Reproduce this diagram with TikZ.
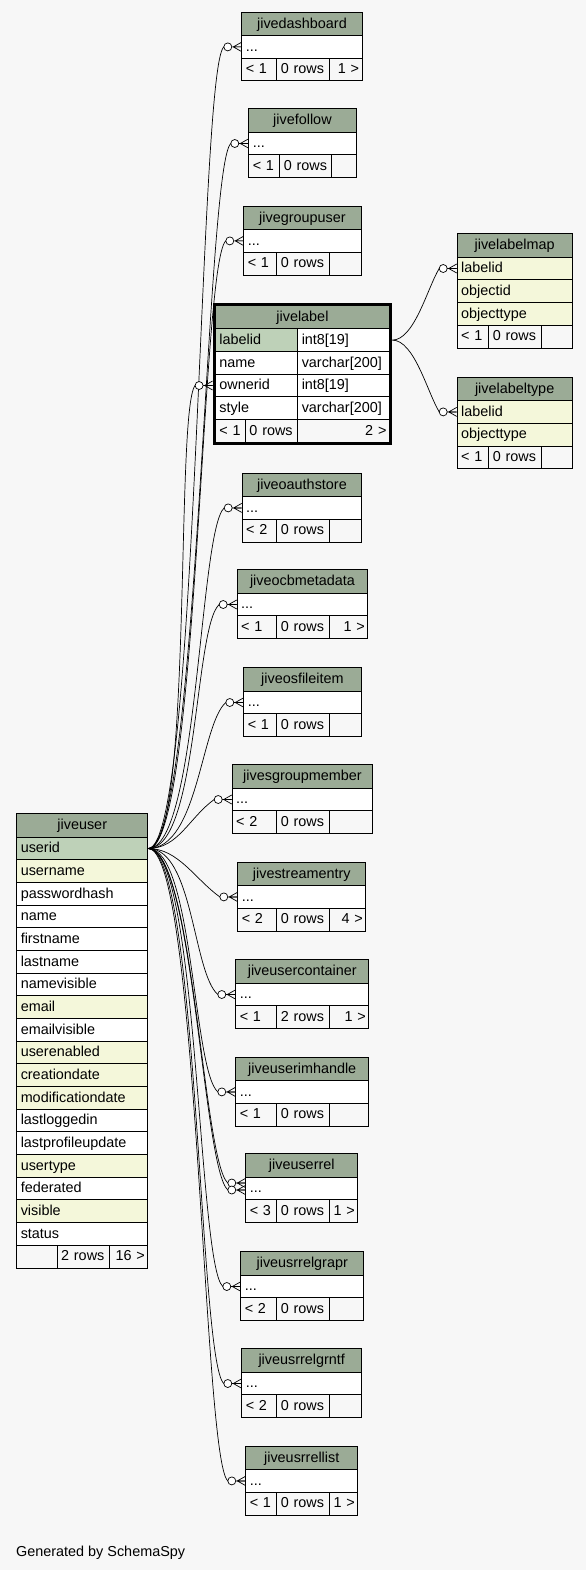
\documentclass[tikz,border=0pt]{standalone}
\usepackage{fontspec}
\setmainfont{Liberation Sans}
\usepackage{tikz}
\usetikzlibrary{fit}
\definecolor{pagebg}{HTML}{F7F7F7}
\definecolor{headgreen}{HTML}{9BAB96}
\definecolor{keygreen}{HTML}{BED1B8}
\definecolor{idxyellow}{HTML}{F4F7DA}

\begin{document}
\begin{tikzpicture}[x=1pt, y=-1pt,
    font=\fontsize{14.4}{16}\selectfont,
    cell/.style={draw, line width=0.9pt, fill=white, inner xsep=4pt, inner ysep=0pt,
        anchor=north west, text height=10.5pt, text depth=2pt, minimum height=22.7pt, align=left},
    headcell/.style={cell, fill=headgreen, minimum height=23.4pt, align=center},
    footcell/.style={cell, fill=pagebg},
    footright/.style={footcell, inner xsep=3pt, align=right},
    fk/.style={line width=0.7pt},
    crowodot/.pic={
        \draw[fk, fill=white] (-13.5,0) circle (4pt);
        \draw[fk] (-8,0) -- (0,-4.5) (-8,0) -- (0,0) (-8,0) -- (0,4.5);
    }]

% ---- Page ----
\fill[pagebg] (0,0) rectangle (586,1570);
\useasboundingbox (0,0) rectangle (586,1570);

% ---- Child tables with one "..." row ----
\foreach \tname/\xa/\xb/\ytop/\fl/\fm/\fr/\sa/\sb in {
    jivedashboard/241.3/361.7/11.7/{< 1}/{0 rows}/{1 >}/276.3/328.5,
    jivefollow/248.3/355.7/108.3/{< 1}/{0 rows}/{}/279.3/331.3,
    jivegroupuser/243.3/360.7/205.7/{< 1}/{0 rows}/{}/276.3/328.5,
    jiveoauthstore/241.7/361.3/472.7/{< 2}/{0 rows}/{}/276.3/328.5,
    jiveocbmetadata/236.7/367.3/569.3/{< 1}/{0 rows}/{1 >}/276.3/328.5,
    jiveosfileitem/243.3/360.7/667.3/{< 1}/{0 rows}/{}/276.3/328.5,
    jivesgroupmember/231.7/372.3/764.3/{< 2}/{0 rows}/{}/276.3/328.5,
    jivestreamentry/237.3/365.3/861.7/{< 2}/{0 rows}/{4 >}/276.3/328.5,
    jiveusercontainer/235.3/368.3/959.3/{< 1}/{2 rows}/{1 >}/276.3/328.5,
    jiveuserimhandle/235.3/368.3/1056.7/{< 1}/{0 rows}/{}/276.3/328.5,
    jiveuserrel/245.3/357.3/1153.3/{< 3}/{0 rows}/{1 >}/276.3/328.5,
    jiveusrrelgrapr/240.3/363.3/1251.3/{< 2}/{0 rows}/{}/276.3/328.5,
    jiveusrrelgrntf/241.3/361.3/1348.3/{< 2}/{0 rows}/{}/276.3/328.5,
    jiveusrrellist/245.3/357.3/1445.7/{< 1}/{0 rows}/{1 >}/276.3/328.5} {
    \pgfmathsetmacro{\tw}{\xb-\xa-8}
    \pgfmathsetmacro{\ya}{\ytop+23.4}
    \pgfmathsetmacro{\yb}{\ytop+46.1}
    \pgfmathsetmacro{\wa}{\sa-\xa-8}
    \pgfmathsetmacro{\wb}{\sb-\sa-8}
    \pgfmathsetmacro{\wc}{\xb-\sb-6}
    \node[headcell, text width=\tw pt] (\tname-head) at (\xa,\ytop) {\tname};
    \node[cell, text width=\tw pt] (\tname-dots) at (\xa,\ya) {...};
    \node[footcell, text width=\wa pt] (\tname-fl) at (\xa,\yb) {\fl};
    \node[footcell, text width=\wb pt] (\tname-fm) at (\sa,\yb) {\fm};
    \node[footright, text width=\wc pt] (\tname-fr) at (\sb,\yb) {\fr};
}

% ---- jivelabel (selected table) ----
\node[headcell, text width=166pt] (jivelabel-head) at (215,305) {jivelabel};
\foreach \col/\ctype/\cfill [count=\i from 0] in {labelid/int8[19]/keygreen,
    name/varchar[200]/white, ownerid/int8[19]/white, style/varchar[200]/white} {
    \node[cell, fill=\cfill, text width=74.3pt] (jivelabel-\col) at (215,{328.3+\i*22.7}) {\col};
    \node[cell, text width=83.7pt] (jivelabel-\col-type) at (297.3,{328.3+\i*22.7}) {\ctype};
}
\node[footcell, text width=22pt] (jivelabel-fl) at (215,419.1) {< 1};
\node[footcell, text width=44.3pt] (jivelabel-fm) at (245,419.1) {0 rows};
\node[footright, text width=85.7pt] (jivelabel-fr) at (297.3,419.1) {2 >};
\node[draw, line width=2.6pt, inner sep=1.1pt, fit=(jivelabel-head)(jivelabel-fr)] (jivelabel) {};

% ---- jivelabelmap ----
\node[headcell, text width=107pt] (jivelabelmap-head) at (456.7,233.3) {jivelabelmap};
\foreach \col [count=\i from 0] in {labelid, objectid, objecttype}
    \node[cell, fill=idxyellow, text width=107pt] (jivelabelmap-\col) at (456.7,{256.7+\i*22.7}) {\col};
\node[footcell, text width=23.6pt] (jivelabelmap-fl) at (456.7,324.8) {< 1};
\node[footcell, text width=44.4pt] (jivelabelmap-fm) at (488.3,324.8) {0 rows};
\node[footright, text width=25pt] (jivelabelmap-fr) at (540.7,324.8) {};

% ---- jivelabeltype ----
\node[headcell, text width=107pt] (jivelabeltype-head) at (456.7,376.7) {jivelabeltype};
\foreach \col [count=\i from 0] in {labelid, objecttype}
    \node[cell, fill=idxyellow, text width=107pt] (jivelabeltype-\col) at (456.7,{400.1+\i*22.7}) {\col};
\node[footcell, text width=23.6pt] (jivelabeltype-fl) at (456.7,445.5) {< 1};
\node[footcell, text width=44.4pt] (jivelabeltype-fm) at (488.3,445.5) {0 rows};
\node[footright, text width=25pt] (jivelabeltype-fr) at (540.7,445.5) {};

% ---- jiveuser ----
\node[headcell, text width=123pt] (jiveuser-head) at (16.3,813.3) {jiveuser};
\foreach \col/\cfill [count=\i from 0] in {userid/keygreen, username/idxyellow,
    passwordhash/white, name/white, firstname/white, lastname/white, namevisible/white,
    email/idxyellow, emailvisible/white, userenabled/idxyellow, creationdate/idxyellow,
    modificationdate/idxyellow, lastloggedin/white, lastprofileupdate/white,
    usertype/idxyellow, federated/white, visible/idxyellow, status/white}
    \node[cell, fill=\cfill, text width=123pt] (jiveuser-\col) at (16.3,{836.7+\i*22.67}) {\col};
\node[footcell, text width=32.4pt] (jiveuser-fl) at (16.3,1244.8) {};
\node[footcell, text width=44pt] (jiveuser-fm) at (56.7,1244.8) {2 rows};
\node[footright, text width=32.6pt] (jiveuser-fr) at (108.7,1244.8) {16 >};

% ---- Foreign keys ----
\coordinate (ownerid-port) at (jivelabel.west |- jivelabel-ownerid.west);
\coordinate (labelid-port) at (jivelabel.east |- jivelabel-labelid-type.east);
\coordinate (userrel-a) at ([yshift=5.5pt]jiveuserrel-dots.west);
\coordinate (userrel-b) at ([yshift=-1.5pt]jiveuserrel-dots.west);

\foreach \tname/\clen/\dy in {jivedashboard/50/22, jivefollow/50/22, jivegroupuser/50/22,
    jiveoauthstore/50/22, jiveocbmetadata/50/22, jiveosfileitem/50/22, jivesgroupmember/30/18,
    jivestreamentry/30/-18, jiveusercontainer/45/-22, jiveuserimhandle/45/-22,
    jiveusrrelgrapr/50/-22, jiveusrrelgrntf/50/-22, jiveusrrellist/50/-22} {
    \draw[fk] (jiveuser-userid.east) .. controls +(\clen,0) and +(-25,\dy) ..
        ([xshift=-17.5pt]\tname-dots.west) -- (\tname-dots.west);
    \pic at (\tname-dots.west) {crowodot};
}

\draw[fk] (jiveuser-userid.east) .. controls +(45,0) and +(-20,25) ..
    ([xshift=-17.5pt]ownerid-port) -- (ownerid-port);
\pic at (ownerid-port) {crowodot};

\foreach \port in {userrel-a, userrel-b} {
    \draw[fk] (jiveuser-userid.east) .. controls +(45,0) and +(-25,-22) ..
        ([xshift=-17.5pt]\port) -- (\port);
    \pic at (\port) {crowodot};
}

\draw[fk] (labelid-port) .. controls +(22,0) and +(-12,20) ..
    ([xshift=-17.5pt]jivelabelmap-labelid.west) -- (jivelabelmap-labelid.west);
\pic at (jivelabelmap-labelid.west) {crowodot};
\draw[fk] (labelid-port) .. controls +(22,0) and +(-12,-20) ..
    ([xshift=-17.5pt]jivelabeltype-labelid.west) -- (jivelabeltype-labelid.west);
\pic at (jivelabeltype-labelid.west) {crowodot};

% ---- Footer ----
\node[anchor=base west, inner sep=0pt] (credit) at (16,1556.5) {Generated by SchemaSpy};

\end{tikzpicture}
\end{document}
